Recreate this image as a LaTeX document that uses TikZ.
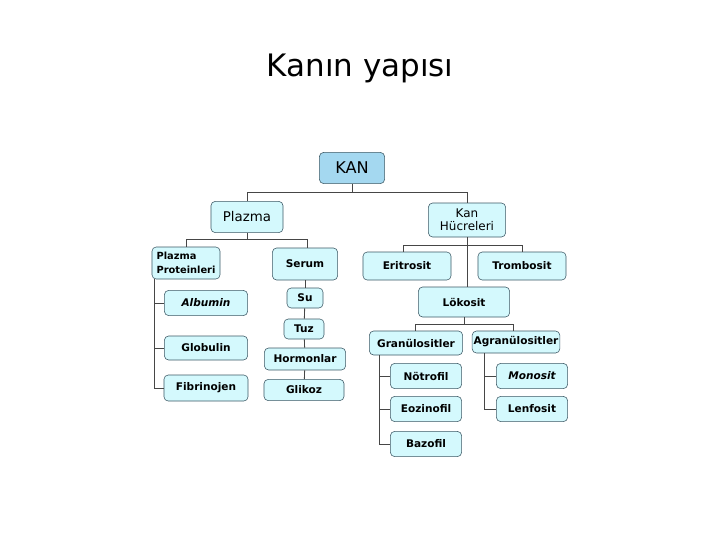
\documentclass[tikz,border=0pt]{standalone}
\usepackage{fontspec}
\setmainfont{DejaVu Sans}
\usepackage{tikz}
\usetikzlibrary{positioning, calc}
\definecolor{kanblue}{RGB}{164,216,240}
\definecolor{paleaqua}{RGB}{212,249,253}
\definecolor{boxedge}{RGB}{60,88,100}
\definecolor{linkgray}{RGB}{70,70,70}

\begin{document}
\begin{tikzpicture}[
    x=0.025cm, y=-0.025cm,
    box/.style={draw=boxedge, fill=paleaqua, rounded corners=3pt, inner sep=1pt, align=center, font=\fontsize{7.5}{9}\selectfont\bfseries},
    topbox/.style={box, fill=kanblue, font=\fontsize{11.5}{13}\selectfont},
    midbox/.style={box, font=\fontsize{9.5}{10.5}\selectfont},
    leafbox/.style={box, minimum width=1.78cm, minimum height=0.63cm},
    link/.style={draw=linkgray, line width=0.6pt},
    title/.style={font=\fontsize{22}{26}\selectfont},
  ]
  \useasboundingbox (0,0) rectangle (720,540);
  \node[title] (title) at (360,68) {Kanın yapısı};
  % top levels
  \node[topbox, minimum width=1.63cm, minimum height=0.78cm] (kan) at (352,168) {KAN};
  \node[midbox, minimum width=1.8cm, minimum height=0.78cm] (plazma) at (247,217) {Plazma};
  \node[midbox, minimum width=1.93cm, minimum height=0.85cm, font=\fontsize{8.5}{9.5}\selectfont] (hucre) at (467,220) {Kan\\Hücreleri};
  % plazma side
  \node[box, minimum width=1.7cm, minimum height=0.8cm, align=left, font=\fontsize{7}{9.5}\selectfont\bfseries] (proteins) at (186,263) {Plazma\\Proteinleri};
  \node[box, minimum width=1.63cm, minimum height=0.8cm] (serum) at (305,264) {Serum};
  \node[box, minimum width=2.08cm, minimum height=0.63cm, font=\fontsize{7.5}{9}\selectfont\bfseries\itshape] (albumin) at (206,303) {Albumin};
  \node[box, minimum width=2.08cm, minimum height=0.6cm] (globulin) at (206,348) {Globulin};
  \node[box, minimum width=2.1cm, minimum height=0.65cm] (fibrinojen) at (206,388) {Fibrinojen};
  \node[box, minimum width=0.9cm, minimum height=0.5cm] (su) at (305,298) {Su};
  \node[box, minimum width=1cm, minimum height=0.5cm] (tuz) at (304,329) {Tuz};
  \node[box, minimum width=2.03cm, minimum height=0.55cm] (hormon) at (305,359) {Hormonlar};
  \node[box, minimum width=2cm, minimum height=0.53cm] (glikoz) at (304,390) {Glikoz};
  % hucre side
  \node[box, minimum width=2.2cm, minimum height=0.7cm] (eritrosit) at (407,266) {Eritrosit};
  \node[box, minimum width=2.2cm, minimum height=0.7cm] (trombosit) at (522,266) {Trombosit};
  \node[box, minimum width=2.28cm, minimum height=0.75cm] (lokosit) at (464,302) {Lökosit};
  \node[box, minimum width=2.33cm, minimum height=0.6cm] (granul) at (416,343) {Granülositler};
  \node[box, minimum width=2.15cm, minimum height=0.55cm] (agranul) at (516,342) {Agranülositler};
  \node[leafbox] (notrofil) at (426,376) {Nötrofil};
  \node[leafbox] (eozinofil) at (426,409) {Eozinofil};
  \node[leafbox] (bazofil) at (426,444) {Bazofil};
  \node[leafbox, font=\fontsize{7.5}{9}\selectfont\bfseries\itshape] (monosit) at (532,376) {Monosit};
  \node[leafbox] (lenfosit) at (532,409) {Lenfosit};
  % connectors
  \draw[link] (kan.south) -- ++(0,9) -| (plazma.north);
  \draw[link] (kan.south) -- ++(0,9) -| (hucre.north);
  \draw[link] (plazma.south) -- ++(0,7) -| (proteins.north);
  \draw[link] (plazma.south) -- ++(0,7) -| ($(serum.north)+(2,0)$);
  \draw[link] ($(proteins.south west)+(3,0)$) |- (albumin.west);
  \draw[link] ($(proteins.south west)+(3,0)$) |- (globulin.west);
  \draw[link] ($(proteins.south west)+(3,0)$) |- (fibrinojen.west);
  \draw[link] (serum) -- (su);
  \draw[link] (su) -- (tuz);
  \draw[link] (tuz) -- (hormon);
  \draw[link] (hormon) -- (glikoz);
  \draw[link] (hucre.south) -- ++(0,8) -| ($(eritrosit.north)+(-4,0)$);
  \draw[link] (hucre.south) -- ++(0,8) -| (trombosit.north);
  \draw[link] (hucre.south) -- (lokosit.north -| hucre.south);
  \draw[link] (lokosit.south) -- ++(0,7) -| ($(granul.north)+(-1,0)$);
  \draw[link] (lokosit.south) -- ++(0,7) -| ($(agranul.north)+(-3,0)$);
  \draw[link] ($(granul.south west)+(10,0)$) |- (notrofil.west);
  \draw[link] ($(granul.south west)+(10,0)$) |- (eozinofil.west);
  \draw[link] ($(granul.south west)+(10,0)$) |- (bazofil.west);
  \draw[link] ($(agranul.south west)+(13,0)$) |- (monosit.west);
  \draw[link] ($(agranul.south west)+(13,0)$) |- (lenfosit.west);
\end{tikzpicture}
\end{document}
